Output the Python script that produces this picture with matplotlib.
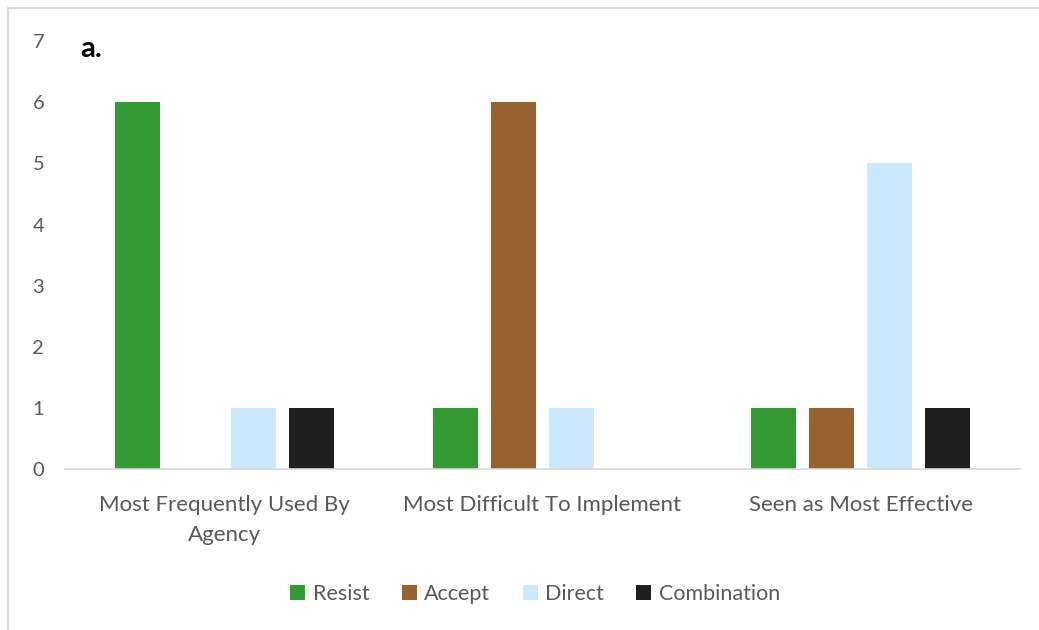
import numpy as np
import matplotlib.pyplot as plt
from matplotlib.lines import Line2D

categories = ["Most Frequently Used By\nAgency", "Most Difficult To Implement", "Seen as Most Effective"]
series = ["Resist", "Accept", "Direct", "Combination"]
resist = [6, 1, 1]
accept = [0, 6, 1]
direct = [1, 1, 5]
combination = [1, 0, 1]
colors = ["#339933", "#97622F", "#CCE8FF", "#1F1F1F"]

plt.rcParams['font.family'] = ['Lato', 'DejaVu Sans']

fig = plt.figure(figsize=(10.39, 6.30), dpi=100)
ax = fig.add_axes([0.0626, 0.2556, 0.919, 0.679])

x = np.arange(len(categories))
width = 0.1415
step = 0.182
for i, (name, vals) in enumerate(zip(series, [resist, accept, direct, combination])):
    ax.bar(x + (i - 1.5) * step, vals, width, color=colors[i], label=name)

ax.set_xlim(-0.5, 2.5)
ax.set_ylim(0, 7)
ax.set_yticks(range(8))
ax.set_xticks(x)
ax.set_xticklabels(categories, fontsize=16, color="#595959", linespacing=1.6)
ax.tick_params(axis='y', labelsize=14.5, colors="#595959", length=0, pad=15)
ax.tick_params(axis='x', length=0, pad=19)
for s in ["top", "right", "left"]:
    ax.spines[s].set_visible(False)
ax.spines["bottom"].set_color("#d9d9d9")
ax.spines["bottom"].set_linewidth(1.2)

ax.text(0.077, 0.922, "a.", transform=fig.transFigure, fontsize=21, fontweight="bold",
        color="black", va="center")

fig.legend(loc="center", bbox_to_anchor=(0.515, 0.057), ncol=4, frameon=False,
           fontsize=15.5, handlelength=0.7, handleheight=0.7, handletextpad=0.35,
           columnspacing=1.5, labelcolor="#595959")

# outer chart frame
fig.add_artist(Line2D([0.0077, 1.0], [0.987, 0.987], color="#d9d9d9", lw=1.5, transform=fig.transFigure))
fig.add_artist(Line2D([0.0077, 0.0077], [0.0, 0.987], color="#d9d9d9", lw=1.5, transform=fig.transFigure))

fig.savefig("out.png", dpi=100)
